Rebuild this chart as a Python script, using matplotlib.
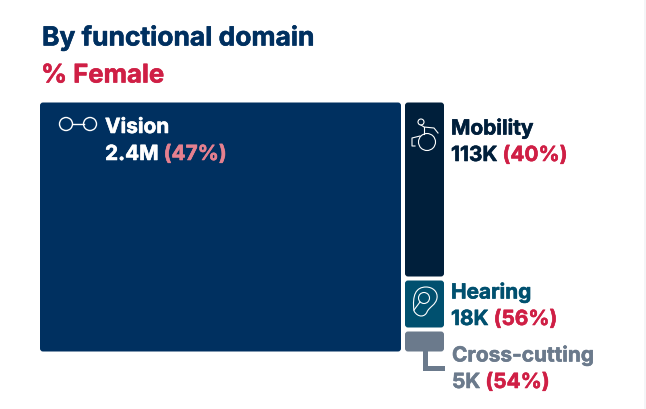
import matplotlib
matplotlib.use('Agg')
import matplotlib.pyplot as plt
import matplotlib.patheffects as pe
from matplotlib.patches import FancyBboxPatch, Circle, PathPatch, Rectangle
from matplotlib.path import Path

plt.rcParams['font.family'] = ['Inter', 'Open Sans', 'DejaVu Sans']

#Dados
domains = ['Vision', 'Mobility', 'Hearing', 'Cross-cutting']
counts = ['2.4M', '113K', '18K', '5K']
pct_female = [47, 40, 56, 54]
# tile sizes as drawn in the picture (not proportional to counts)
tile_sizes = [92345, 7654, 2193, 1032]
tile_colors = ['#003060', '#001f3b', '#00506f', '#6b7a8c']
name_colors = ['#ffffff', '#001f3b', '#00506f', '#6b7a8c']
pct_colors = ['#e5808f', '#cf1f45', '#cf1f45', '#cf1f45']

W, H = 646, 410
fig = plt.figure(figsize=(W/100, H/100), dpi=100, facecolor='#f4f5f7')
ax = fig.add_axes([0, 0, 1, 1])
ax.set_xlim(0, W)
ax.set_ylim(H, 0)
ax.axis('off')

# card
ax.add_patch(FancyBboxPatch((-30, -30), 674, 470, boxstyle='round,pad=0,rounding_size=22',
                            fc='white', ec='none'))

def bold_text(x, y, s, color, size):
    # a thin outline because the original font is heavier than Inter bold
    return ax.text(x, y, s, color=color, fontsize=size, fontweight='bold', va='center', ha='left',
                   path_effects=[pe.withStroke(linewidth=0.4, foreground=color)])

bold_text(42, 39, 'By functional domain', '#003060', 19)
bold_text(41, 77, '% Female', '#cf1f45', 18.5)

# treemap layout from the tile sizes
x0, y0, tw, th = 38, 101.5, 408, 253
gap = 2
total = sum(tile_sizes)
left_w = tw*tile_sizes[0]/total
rects = [(x0, y0, left_w, th)]
y = y0
for s in tile_sizes[1:]:
    h = s/(tw - left_w)/(total/(tw*th))
    rects.append((x0 + left_w, y, tw - left_w, h))
    y += h

for (x, y, w, h), c in zip(rects, tile_colors):
    ax.add_patch(FancyBboxPatch((x + gap, y + gap), w - 2*gap, h - 2*gap,
                                boxstyle='round,pad=0,rounding_size=3', fc=c, ec='none'))

# labels
label_x = [105, 451, 451, 452]
label_y = [128, 129, 293, 356]
fig.canvas.draw()
rend = fig.canvas.get_renderer()
for i in range(4):
    bold_text(label_x[i], label_y[i], domains[i], name_colors[i], 15)
    t = bold_text(label_x[i], label_y[i] + 27, counts[i], name_colors[i], 15)
    ext = t.get_window_extent(rend)
    bold_text(ext.x1 + 5, label_y[i] + 27, '(%d%%)' % pct_female[i], pct_colors[i], 15)

# connector for the small tile
ax.add_patch(Rectangle((423, 352), 5, 19, fc='#6b7a8c', ec='none'))
ax.add_patch(Rectangle((423, 367), 22, 4.5, fc='#6b7a8c', ec='none'))

# icons
ax.add_patch(Circle((66, 125), 6.5, fc='none', ec='white', lw=1))
ax.add_patch(Circle((90, 125), 6.5, fc='none', ec='white', lw=1))
ax.plot([72.5, 83.5], [125, 125], color='white', lw=1)

ax.add_patch(Circle((421, 123), 3, fc='none', ec='white', lw=0.8))
ax.add_patch(Circle((427, 143), 8.5, fc='none', ec='white', lw=0.8))
ax.plot([421, 424, 434, 438], [126, 128, 129, 134], color='white', lw=0.8)
ax.plot([424, 424], [128, 135], color='white', lw=0.8)
ax.plot([420, 412, 412, 415], [137, 139, 147, 147], color='white', lw=0.8)

ear = Path([(414, 312), (412, 296), (416, 288), (426, 288), (433, 288), (438, 293), (437, 299),
            (436, 306), (429, 308), (427, 313), (425, 318), (418, 319), (414, 312)],
           [Path.MOVETO] + [Path.CURVE4]*12)
ax.add_patch(PathPatch(ear, fc='none', ec='white', lw=0.8))
ax.add_patch(Circle((424, 299), 5.5, fc='none', ec='white', lw=0.8))
ax.plot([420, 414], [303, 311], color='white', lw=0.8)

fig.savefig('out.png', dpi=100, facecolor=fig.get_facecolor())
